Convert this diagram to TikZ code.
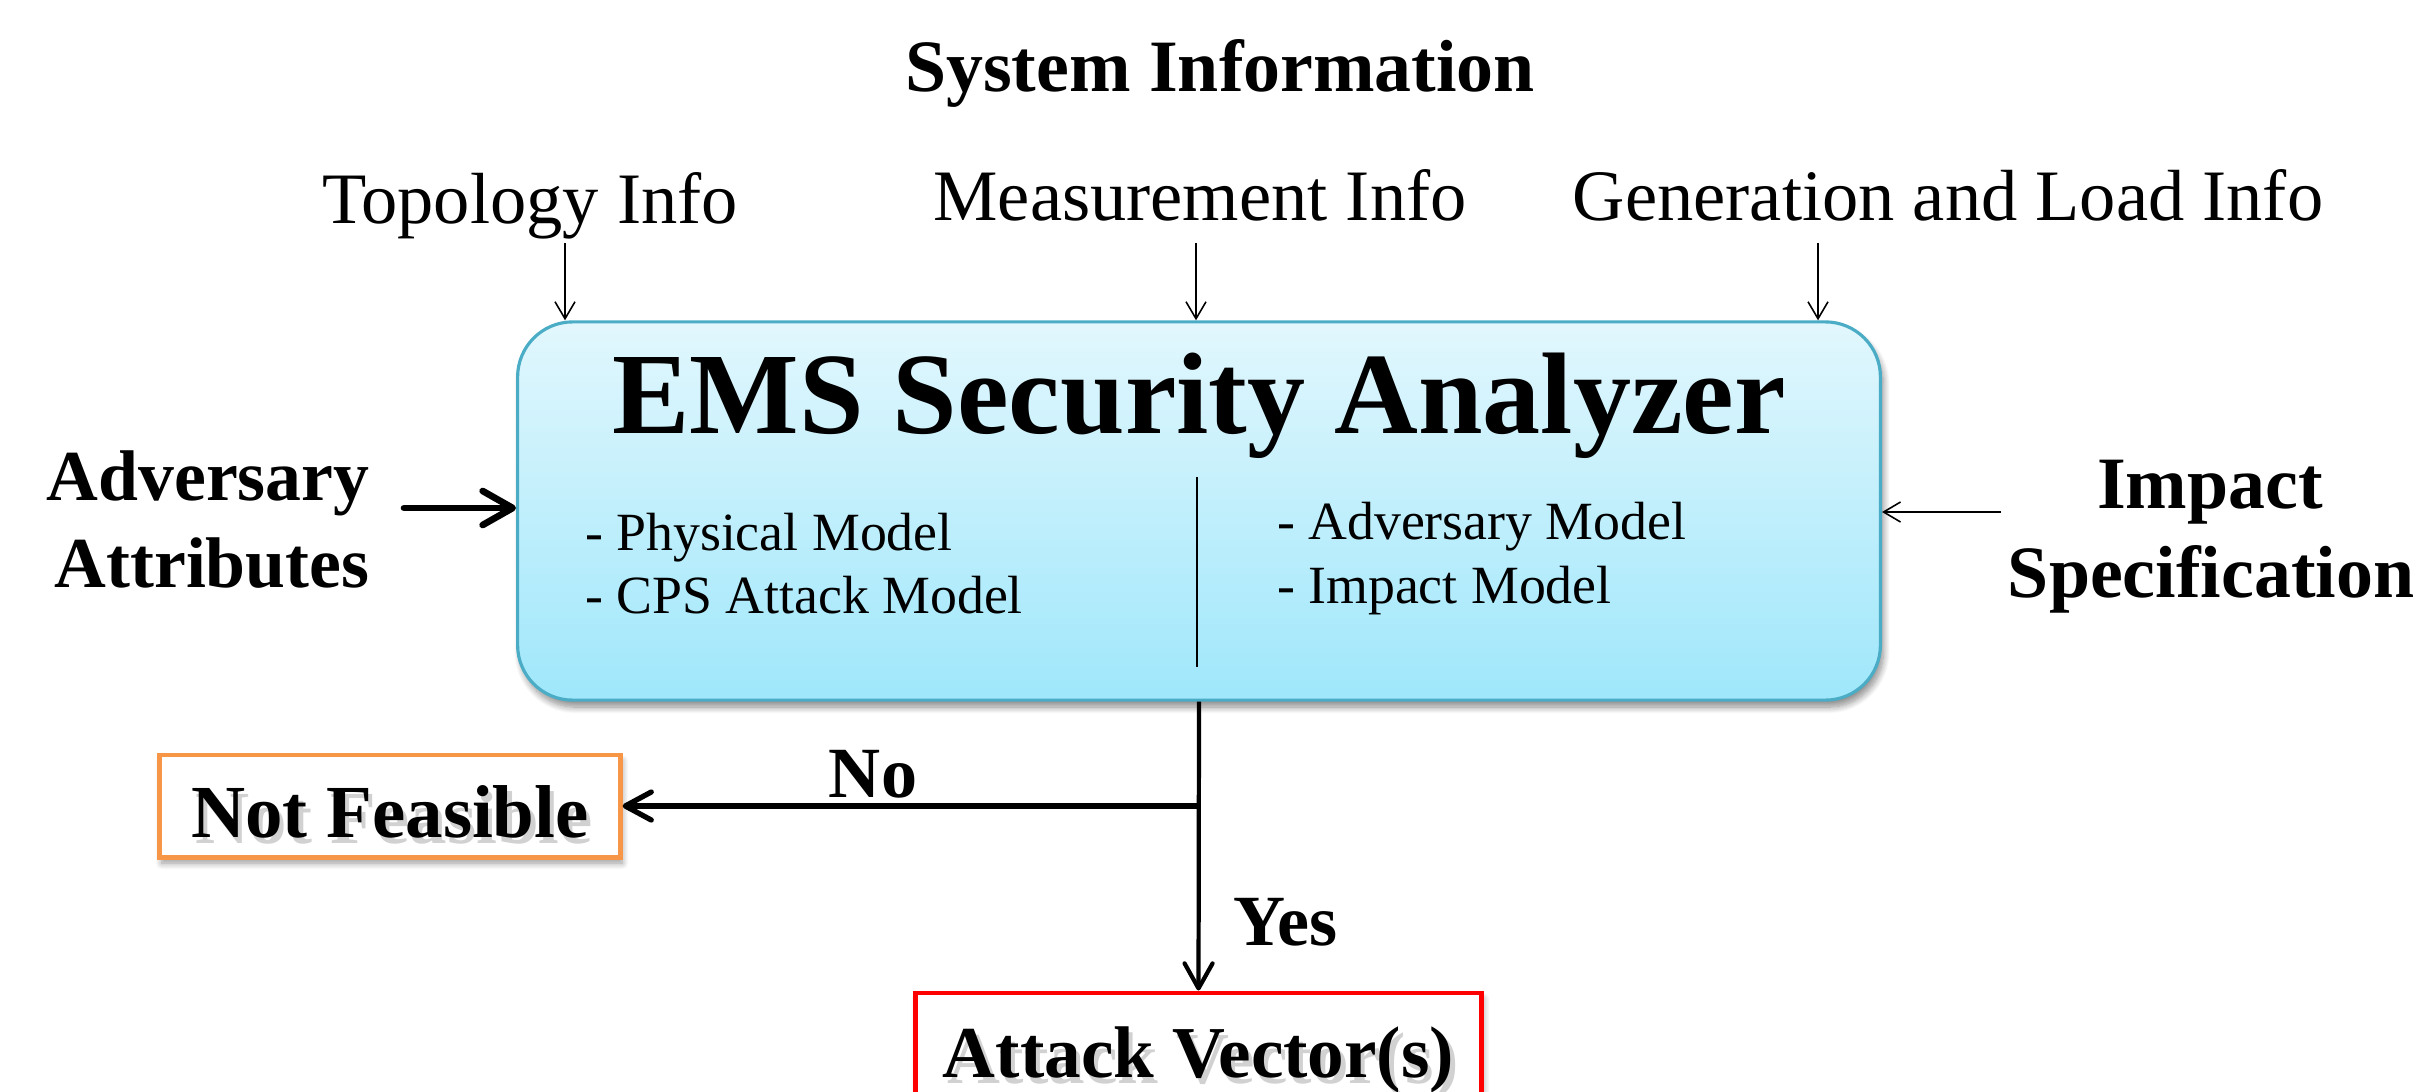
\documentclass[tikz,border=0pt]{standalone}
\usepackage{fontspec}
\setmainfont{Liberation Serif}
\usetikzlibrary{arrows.meta,shadows.blur}
\definecolor{boxtop}{HTML}{E2F7FD}
\definecolor{boxbot}{HTML}{9FE7FB}
\definecolor{boxline}{HTML}{4BACC6}
\definecolor{nforange}{HTML}{F79646}
\newcommand\myfs[1]{\fontsize{#1pt}{#1pt}\selectfont}
\newcommand\shtext[1]{\makebox[0pt][l]{\kern1.2pt\raisebox{-1.8pt}{\textcolor{black!18}{#1}}}#1}
\begin{document}
\begin{tikzpicture}[x=0.01cm,y=-0.01cm,
  lbl/.style={inner sep=0pt, outer sep=0pt, anchor=base},
  thinarrow/.style={-{Straight Barb[length=0.17cm,width=0.2cm]}, line width=0.45pt},
  bigarrow/.style={-{Straight Barb[length=0.3cm,width=0.34cm,round]}, line width=1.9pt, line cap=round},
  flowarrow/.style={-{Straight Barb[length=0.25cm,width=0.28cm,round]}, line width=1.2pt},
  noarrow/.style={-{Straight Barb[length=0.26cm,width=0.28cm,round]}, line width=1.5pt},
  emsbox/.style={rectangle, rounded corners=0.55cm, minimum width=13.62cm, minimum height=3.78cm,
    draw=boxline, line width=0.9pt, top color=boxtop, bottom color=boxbot, inner sep=0pt,
    blur shadow={shadow xshift=0.03cm, shadow yshift=-0.07cm, shadow blur steps=10, shadow opacity=45}},
  resultbox/.style={rectangle, fill=white, line width=1.4pt, inner sep=0pt,
    blur shadow={shadow xshift=0.02cm, shadow yshift=-0.06cm, shadow blur steps=8, shadow opacity=40}},
]
\useasboundingbox (0,0) rectangle (2422,1091);
\clip (0,0) rectangle (2422,1091);

% heading and system information labels
\node[lbl] (sysinfo) at (1220,92) {\myfs{21}\bfseries System Information};
\node[lbl] (topo) at (530,223) {\myfs{20.6}Topology Info};
\node[lbl] (meas) at (1200,221) {\myfs{20.6}Measurement Info};
\node[lbl] (gen) at (1948,221) {\myfs{20.6}Generation and Load Info};

% main analyzer box
\node[emsbox] (ems) at (1199,511) {};
\node[lbl] (title) at (1199,433) {\myfs{33}\bfseries EMS Security Analyzer};
\node[lbl, anchor=base west] (phys) at (585,550) {\myfs{15.3}- Physical Model};
\node[lbl, anchor=base west] (cps) at (585,613) {\myfs{15.3}- CPS Attack Model};
\node[lbl, anchor=base west] (advm) at (1277,539) {\myfs{15.3}- Adversary Model};
\node[lbl, anchor=base west] (impm) at (1277,603) {\myfs{15.3}- Impact Model};
\coordinate (divtop) at (1197,477);
\coordinate (divbot) at (1197,667);
\draw[line width=0.4pt] (divtop) -- (divbot);

% top input arrows
\coordinate (t1) at (565,243);
\coordinate (t2) at (1196,243);
\coordinate (t3) at (1818,243);
\draw[thinarrow] (t1) -- (t1 |- ems.north);
\draw[thinarrow] (t2) -- (t2 |- ems.north);
\draw[thinarrow] (t3) -- (t3 |- ems.north);

% adversary attributes
\node[lbl] (advA) at (208,500) {\myfs{20.4}\bfseries Adversary};
\node[lbl] (advB) at (212,587) {\myfs{20.4}\bfseries Attributes};
\coordinate (advout) at (404,508);
\draw[bigarrow] (advout) -- (advout -| ems.west);

% impact specification
\node[lbl] (impA) at (2210,508) {\myfs{21}\bfseries Impact};
\node[lbl] (impB) at (2211,597) {\myfs{21}\bfseries Specification};
\coordinate (impout) at (2001,512);
\draw[thinarrow] (impout) -- (impout -| ems.east);

% outcome boxes
\node[resultbox, draw=nforange, minimum width=4.6cm, minimum height=1.02cm,
  text height=0.72cm, text depth=0.10cm] (nf) at (390,806)
  {\myfs{21.3}\bfseries\shtext{Not Feasible}};
\node[resultbox, draw=red, minimum width=5.65cm, minimum height=1.22cm,
  text height=0.60cm, text depth=0.14cm] (av) at (1198.5,1054)
  {\myfs{20.8}\bfseries\shtext{Attack Vector(s)}};

% decision connectors
\coordinate (br) at (ems.south |- nf.east);
\draw[flowarrow] (ems.south) -- (av.north);
\draw[noarrow] (br) -- (nf.east);
\node[lbl] (no) at (873,797) {\myfs{20.5}\bfseries No};
\node[lbl, anchor=base west] (yes) at (1233,945) {\myfs{20.5}\bfseries Yes};
\end{tikzpicture}
\end{document}
